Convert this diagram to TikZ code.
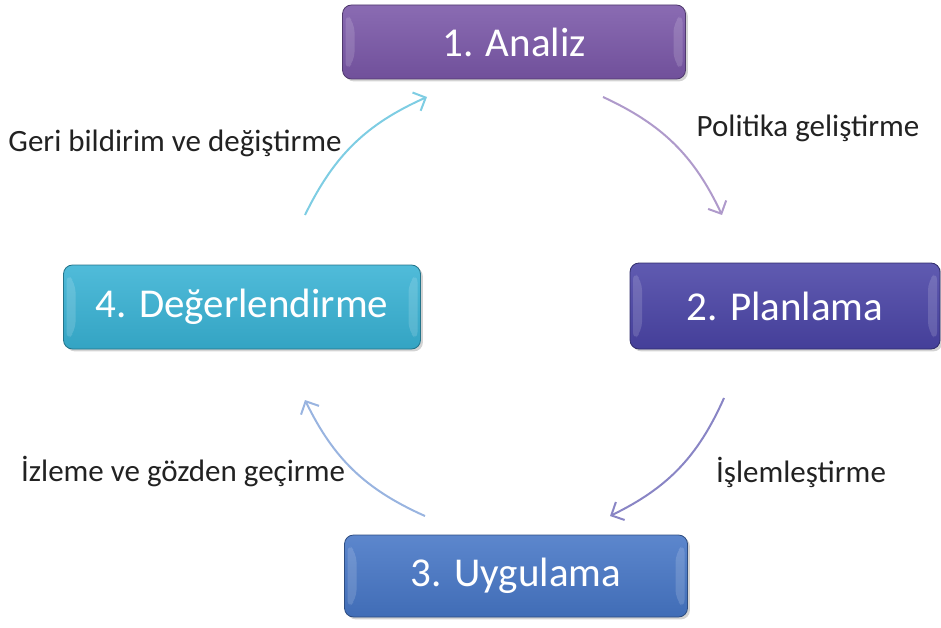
\documentclass[tikz,border=0pt]{standalone}
\usepackage{fontspec}
\setmainfont{Carlito}
\usetikzlibrary{arrows.meta, shadows}

\definecolor{analizC}{HTML}{7A57A8}
\definecolor{planC}{HTML}{4A44A6}
\definecolor{uygC}{HTML}{4676C6}
\definecolor{degC}{HTML}{38B2D4}
\definecolor{labelC}{HTML}{222222}

\tikzset{
  stage/.style={draw=#1!65!black, line width=0.8pt, rounded corners=9pt,
    top color=#1!88!white, bottom color=#1!92!black, text=white,
    font=\fontsize{41}{49}\selectfont, drop shadow={opacity=0.35},
    path picture={
      \fill[white,opacity=0.15] ([xshift=3pt,yshift=-8pt]path picture bounding box.north west)
        -- ([xshift=12pt,yshift=-18pt]path picture bounding box.north west)
        -- ([xshift=12pt,yshift=18pt]path picture bounding box.south west)
        -- ([xshift=3pt,yshift=8pt]path picture bounding box.south west) -- cycle;
      \fill[white,opacity=0.15] ([xshift=-3pt,yshift=-8pt]path picture bounding box.north east)
        -- ([xshift=-12pt,yshift=-18pt]path picture bounding box.north east)
        -- ([xshift=-12pt,yshift=18pt]path picture bounding box.south east)
        -- ([xshift=-3pt,yshift=8pt]path picture bounding box.south east) -- cycle;
    }},
  steplabel/.style={text=labelC, font=\fontsize{31}{36}\selectfont},
  cyclearrow/.style={-{Straight Barb[length=10pt,width=20pt]}, line width=2pt, #1}
}

\begin{document}
\begin{tikzpicture}[x=1pt, y=-1pt]
  \useasboundingbox (0,0) rectangle (941,628);

  \node[stage=analizC, minimum width=343pt, minimum height=74pt] (analiz)   at (514,42)  {1. Analiz};
  \node[stage=planC,   minimum width=310pt, minimum height=86pt] (planlama) at (785,306) {2. Planlama};
  \node[stage=uygC,    minimum width=343pt, minimum height=82pt] (uygulama) at (516,576) {3. Uygulama};
  \node[stage=degC,    minimum width=357pt, minimum height=84pt] (degerlendirme) at (242,307) {4. Değerlendirme};

  \node[steplabel] (politika) at (808,128) {Politika geliştirme};
  \node[steplabel] (islem)    at (801,472) {İşlemleştirme};
  \node[steplabel] (izleme)   at (183,472) {İzleme ve gözden geçirme};
  \node[steplabel] (geri)     at (175,143) {Geri bildirim ve değiştirme};

  % arrow ends
  \coordinate (c1s) at (603,97);  \coordinate (c1e) at (722,215);
  \coordinate (c2s) at (724,398); \coordinate (c2e) at (610,516);
  \coordinate (c3s) at (425,516); \coordinate (c3e) at (305,400);
  \coordinate (c4s) at (305,215); \coordinate (c4e) at (427,97);

  \draw[cyclearrow=analizC!60] (c1s) to[bend left=20] (c1e);
  \draw[cyclearrow=planC!65]   (c2s) to[bend left=20] (c2e);
  \draw[cyclearrow=uygC!55]    (c3s) to[bend left=20] (c3e);
  \draw[cyclearrow=degC!65]    (c4s) to[bend left=20] (c4e);
\end{tikzpicture}
\end{document}
